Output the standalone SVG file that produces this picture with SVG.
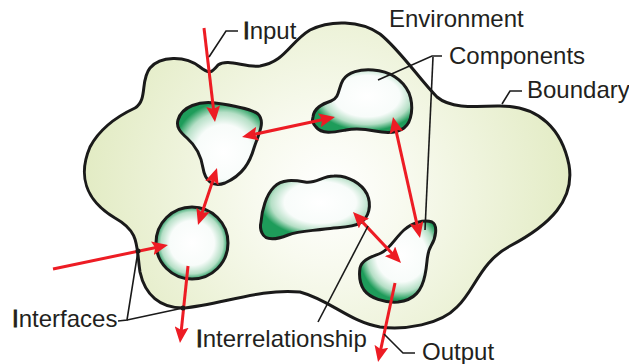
<svg xmlns="http://www.w3.org/2000/svg" width="629" height="364" viewBox="0 0 629 364">
<style>
.bd{stroke:#1a1a1a;stroke-width:3;stroke-linejoin:round}
.ld{fill:none;stroke:#1a1a1a;stroke-width:1.6}
.ar{fill:none;stroke:#ed1c24;stroke-width:3}
.one{marker-end:url(#ah)}
.two{marker-start:url(#ah);marker-end:url(#ah)}
text{font-family:"Liberation Sans",Arial,sans-serif;font-size:24px;fill:#231f20}
.b{stroke:#231f20;stroke-width:0.9}
</style>
<defs>
<radialGradient id="bg" gradientUnits="userSpaceOnUse" cx="330" cy="190" r="250">
<stop offset="0" stop-color="#ffffff"/>
<stop offset="0.3" stop-color="#f8faef"/>
<stop offset="1" stop-color="#e2ebc3"/>
</radialGradient>
<radialGradient id="g1" cx="0.55" cy="0.6" r="0.6">
<stop offset="0" stop-color="#ffffff"/>
<stop offset="0.55" stop-color="#f8fcfa"/>
<stop offset="0.8" stop-color="#b5dfc6"/>
<stop offset="1" stop-color="#1e9c5a"/>
</radialGradient>
<radialGradient id="g2" cx="0.55" cy="0.42" r="0.55">
<stop offset="0" stop-color="#ffffff"/>
<stop offset="0.6" stop-color="#f8fcfa"/>
<stop offset="0.82" stop-color="#b5dfc6"/>
<stop offset="1" stop-color="#1e9c5a"/>
</radialGradient>
<radialGradient id="g3" cx="0.5" cy="0.5" r="0.5">
<stop offset="0" stop-color="#ffffff"/>
<stop offset="0.62" stop-color="#f8fcfa"/>
<stop offset="0.86" stop-color="#b5dfc6"/>
<stop offset="1" stop-color="#2a9f66"/>
</radialGradient>
<marker id="ah" viewBox="0 0 16 14" refX="10" refY="7" markerWidth="16" markerHeight="14" markerUnits="userSpaceOnUse" orient="auto-start-reverse">
<path d="M0,0 L16,7 L0,14 L3,7 z" fill="#ed1c24"/>
</marker>
</defs>

<g id="boundary">
<path class="bd" fill="url(#bg)" d="M90,147 C100,128 120,115 135,108 C148,100 140,80 150,68 C160,56 185,55 200,67 C210,75 212,72 218,65 C228,58 245,68 260,66 C285,62 290,42 310,30 C330,20 360,20 380,34 C400,50 420,80 437,97 C450,108 470,107 500,106 C540,106 562,130 569,165 C575,200 550,225 510,246 C480,262 475,290 457,307 C440,325 405,330 380,327 C350,322 330,300 300,292 C260,288 220,305 183,308 C160,308 145,295 140,272 C136,245 140,232 115,218 C85,200 78,175 90,147 Z"/>
</g>

<g id="component-1">
<path class="bd" fill="url(#g1)" d="M178,120 C182,106 200,101 215,103 C230,105 250,108 258,114 C266,122 258,135 254,148 C250,162 243,175 225,183 C212,188 205,180 203,168 C201,155 196,146 187,138 C180,132 176,127 178,120 Z"/>
</g>
<g id="component-2">
<path class="bd" fill="url(#g2)" d="M313,117 C314,108 322,104 331,101 C340,98 338,88 343,80 C348,72 360,69 373,70 C390,71 403,80 409,93 C414,106 412,122 404,128 C396,134 385,133 375,131 C365,129 356,128 346,130 C335,132 322,135 316,127 C313,124 312,120 313,117 Z"/>
</g>
<g id="component-3">
<path class="bd" fill="url(#g2)" d="M261,222 C262,210 266,195 274,187 C282,179 293,180 305,182 C316,184 322,176 334,176 C348,175 362,184 367,194 C372,205 369,218 360,223 C352,228 338,227 325,229 C310,231 298,231 288,235 C278,239 266,242 262,233 C260,229 260,226 261,222 Z"/>
</g>
<g id="component-4">
<circle class="bd" fill="url(#g3)" cx="192" cy="243" r="36"/>
</g>
<g id="component-5">
<path class="bd" fill="url(#g2)" d="M360,268 C362,259 372,257 381,253 C390,249 395,238 404,230 C412,223 424,219 432,222 C438,225 436,238 431,246 C426,254 428,262 425,275 C422,290 415,300 398,302 C384,303 370,298 364,290 C360,284 359,275 360,268 Z"/>
</g>

<g id="connectors">
<path class="ar one" d="M204,28 L214.3,116"/>
<path class="ar two" d="M247.9,135.7 L329.1,118.3"/>
<path class="ar two" d="M215.1,173.7 L199.9,219.3"/>
<path class="ar one" d="M53,269 L162.1,246.2"/>
<path class="ar one" d="M188,266 L180.6,337"/>
<path class="ar two" d="M394.3,122.9 L418.7,232.1"/>
<path class="ar two" d="M357.1,216.4 L396.9,258.6"/>
<path class="ar one" d="M395,283 L379.3,356.1"/>
</g>

<g id="leaders">
<polyline class="ld" points="209,57 226,31 238,31"/>
<polyline class="ld" points="378,80 432,56 442,56"/>
<line class="ld" x1="433" y1="57" x2="425" y2="230"/>
<polyline class="ld" points="502,104 510,91 522,91"/>
<polyline class="ld" points="118,321 127,320 138,251"/>
<line class="ld" x1="127" y1="320" x2="183" y2="308"/>
<circle cx="138" cy="251" r="2.5" fill="#1a1a1a"/>
<circle cx="183" cy="308" r="2.5" fill="#1a1a1a"/>
<line class="ld" x1="318" y1="322" x2="368" y2="226"/>
<polyline class="ld" points="384,334 403,353 415,353"/>
</g>

<g id="labels">
<text x="243" y="39"><tspan class="b">I</tspan>nput</text>
<text x="389" y="27">Environment</text>
<text x="449" y="64">Components</text>
<text x="527" y="98">Boundary</text>
<text x="12" y="327"><tspan class="b">I</tspan>nterfaces</text>
<text x="196" y="347"><tspan class="b">I</tspan>nterrelationship</text>
<text x="422" y="360">Output</text>
</g>
</svg>
